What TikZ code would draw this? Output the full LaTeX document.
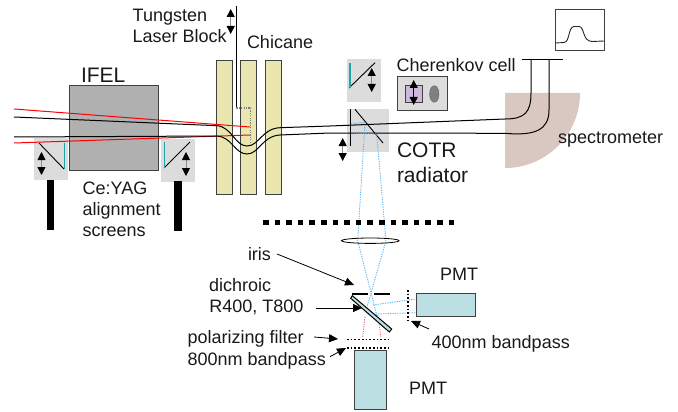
\documentclass[tikz,border=0pt]{standalone}
\usepackage{fontspec}
\setmainfont{Liberation Sans}
\usetikzlibrary{arrows.meta,shapes.geometric}
\definecolor{ifelgray}{HTML}{B0B0B0}
\definecolor{panelgray}{HTML}{DCDCDC}
\definecolor{magnet}{HTML}{E9E6B0}
\definecolor{teal}{HTML}{1FA5A5}
\definecolor{specbrown}{HTML}{D9C7C1}
\definecolor{cellpurple}{HTML}{CDB9DC}
\definecolor{pmtblue}{HTML}{BBDFE3}
\definecolor{rayblue}{HTML}{5CB4EE}
\definecolor{rayred}{HTML}{F06A78}
\tikzset{
  lab/.style={anchor=base west,inner sep=0pt,outer sep=0pt,font=\fontsize{18}{20}\selectfont,text=black!90},
  biglab/.style={lab,font=\fontsize{21}{24}\selectfont},
  panel/.style={fill=panelgray,draw=none},
  edgebox/.style={draw=black!75,line width=1pt},
  magnetbar/.style={edgebox,fill=magnet},
  pmtbox/.style={edgebox,fill=pmtblue},
  thinline/.style={black,line width=.9pt},
  tealline/.style={teal,line width=1pt},
  ebeam/.style={black,line width=1pt},
  laser/.style={red,line width=1pt},
  dbl/.style={black!45,line width=.9pt,{Triangle[black,length=8pt,width=8pt]}-{Triangle[black,length=8pt,width=8pt]}},
  pointer/.style={black,line width=.8pt,-{Triangle[length=9pt,width=8pt]}},
  blueray/.style={rayblue,line width=.9pt,dash pattern=on 1.2pt off 1.2pt},
  redray/.style={rayred,line width=.9pt,dash pattern=on 1.2pt off 1.2pt},
  filterdots/.style={black,line width=1.6pt,dash pattern=on 1.7pt off 2pt},
  bigdots/.style={black,line width=5pt,dash pattern=on 5.5pt off 6.1pt},
  bar/.style={black,line width=7.5pt}
}
\begin{document}
\begin{tikzpicture}[x=1pt,y=-1pt]
\useasboundingbox (0,0) rectangle (678,412);
% blocks
\fill[specbrown] (505,93) -- (580,93) arc[start angle=0,end angle=90,radius=75] -- cycle;
\draw[edgebox,fill=ifelgray] (69.5,86) rectangle (158,170);
\foreach \a in {216,240,265} \draw[magnetbar] (\a,60.7) rectangle (\a+16.5,194.7);
% screens
\fill[panel] (34,138) rectangle (68,180);
\fill[panel] (161,139) rectangle (195,182);
\fill[panel] (346.7,59) rectangle (381,101.7);
\fill[panel] (347,109) rectangle (389,151.7);
\draw[thinline] (39,143) -- (64,169);
\draw[tealline] (64.5,143) -- (64.5,169);
\draw[thinline] (164,168) -- (190,142);
\draw[tealline] (164.5,142) -- (164.5,168);
\draw[thinline] (349,88) -- (375,62.7);
\draw[teal,line width=1.3pt] (350,63) -- (350,88);
\draw[dbl] (41.5,152) -- (41.5,175);
\draw[dbl] (186,152) -- (186,176);
\draw[dbl] (371.7,68) -- (371.7,92);
\draw[dbl] (342.7,138) -- (342.7,161);
\draw[dbl] (230.7,9) -- (230.7,34);
\draw[bar] (50.5,180) -- (50.5,230);
\draw[bar] (178,181) -- (178,231);
% Cherenkov cell
\draw[edgebox,fill=panelgray] (397,77) rectangle (447.3,110.7);
\draw[edgebox,fill=cellpurple] (405.3,85.3) rectangle (422.3,102.3);
\draw[dbl,black] (413.7,80) -- (413.7,105);
\node[draw=black!60,fill=black!50,ellipse,minimum width=9.4pt,minimum height=16.6pt,inner sep=0pt] (lensoval) at (434.3,94) {};
% tungsten block
\draw[thinline] (236.3,6) -- (236.3,108);
\draw[black!50,line width=1.2pt,dash pattern=on 1.3pt off 1.1pt] (236.3,108) -- (250.7,108) -- (250.7,143);
% beams
\draw[laser] (14,109) -- (250,127);
\draw[laser] (14,143) -- (250,135);
\draw[ebeam] (14,117) -- (217,125.7) .. controls (232,127) and (235,146) .. (247,146) .. controls (259,146) and (262,128.5) .. (280,127.7) -- (330,126) -- (505,119) .. controls (525,119) and (531,112) .. (531,93) -- (531,59);
\draw[ebeam] (14,137) -- (217,136) .. controls (232,137) and (235,154) .. (247,154) .. controls (259,154) and (262,136) .. (280,135) -- (330,133) -- (505,133.3) .. controls (535,136) and (549,130) .. (549,110) -- (549,59);
\draw[thinline] (522,59) -- (563,59);
% COTR radiator
\draw[thinline] (350.7,109) -- (350.7,146);
\draw[thinline] (355,109.3) -- (383,143);
% scope
\draw[edgebox] (555,9.5) rectangle (604.7,51);
\draw[black!85,line width=.9pt] (555.7,43) -- (564,42.5) .. controls (570,42) and (568,27) .. (574,26.5) -- (579,26.5) .. controls (585,27) and (582,41) .. (592,41.5) -- (604,41);
% optics
\draw[blueray] (351,124) -- (365,122) -- (357.7,240.7) -- (376.7,315);
\draw[blueray] (351,133) -- (376.7,134) -- (386,240.7) -- (366.7,308);
\draw[blueray] (373,305) -- (416,299);
\draw[blueray] (375.7,314) -- (416,312.7);
\draw[redray] (365,316.7) -- (362.7,337);
\draw[redray] (377.7,315) -- (381,337);
\draw[bigdots] (263,222.7) -- (456,222.7);
\draw[black,line width=.8pt] (370.3,240.7) ellipse[x radius=28.7,y radius=2.7];
\draw[black,line width=2pt] (352,294) -- (368,294) (374,294) -- (390,294);
\draw[draw=black,line width=1pt,fill=pmtblue] (352.3,295.7) -- (350.7,298.3) -- (389.3,332) -- (391.7,329) -- cycle;
\draw[filterdots] (407.7,290) -- (407.7,322);
\draw[filterdots] (347,339.3) -- (388,339.3);
\draw[filterdots] (347,347.7) -- (388,347.7);
\draw[pmtbox] (416,293) rectangle (475,316.7);
\draw[pmtbox] (354.3,350.7) rectangle (386.7,409);
% labels
\node[lab] (tung) at (132.7,21.7) {Tungsten};
\node[lab] (block) at (132.7,42.7) {Laser Block};
\node[lab] (chic) at (247,49) {Chicane};
\node[biglab] (ifel) at (81,82.7) {IFEL};
\node[lab] (ce) at (82.7,194) {Ce:YAG};
\node[lab] (align) at (82.7,215) {alignment};
\node[lab] (scr) at (82.7,236.7) {screens};
\node[lab] (cher) at (396.7,71.7) {Cherenkov cell};
\node[biglab] (cotr) at (397,157.7) {COTR};
\node[biglab] (rad) at (397,182.7) {radiator};
\node[lab] (spec) at (558,143) {spectrometer};
\node[lab] (pmta) at (440,280) {PMT};
\node[lab] (pmtb) at (409,394) {PMT};
\node[lab] (bp) at (431.7,348) {400nm bandpass};
\node[lab] (iris) at (248,260.7) {iris};
\node[lab] (dich) at (209,291.7) {dichroic};
\node[lab] (rt) at (209.3,312.7) {R400, T800};
\node[lab] (pol) at (187.7,343) {polarizing filter};
\node[lab] (eight) at (187.7,365) {800nm bandpass};
% pointers
\coordinate (irisS) at (277,254);
\coordinate (irisT) at (354,285);
\coordinate (dichS) at (316,308);
\coordinate (dichT) at (362,308);
\coordinate (polS) at (314,337);
\coordinate (polT) at (338,339);
\coordinate (eightS) at (330,356.7);
\coordinate (eightT) at (346,348);
\coordinate (bpS) at (429,329);
\coordinate (bpT) at (411,321);
\draw[pointer] (irisS) -- (irisT);
\draw[pointer] (dichS) -- (dichT);
\draw[pointer] (polS) -- (polT);
\draw[pointer] (eightS) -- (eightT);
\draw[pointer] (bpS) -- (bpT);
\end{tikzpicture}
\end{document}
